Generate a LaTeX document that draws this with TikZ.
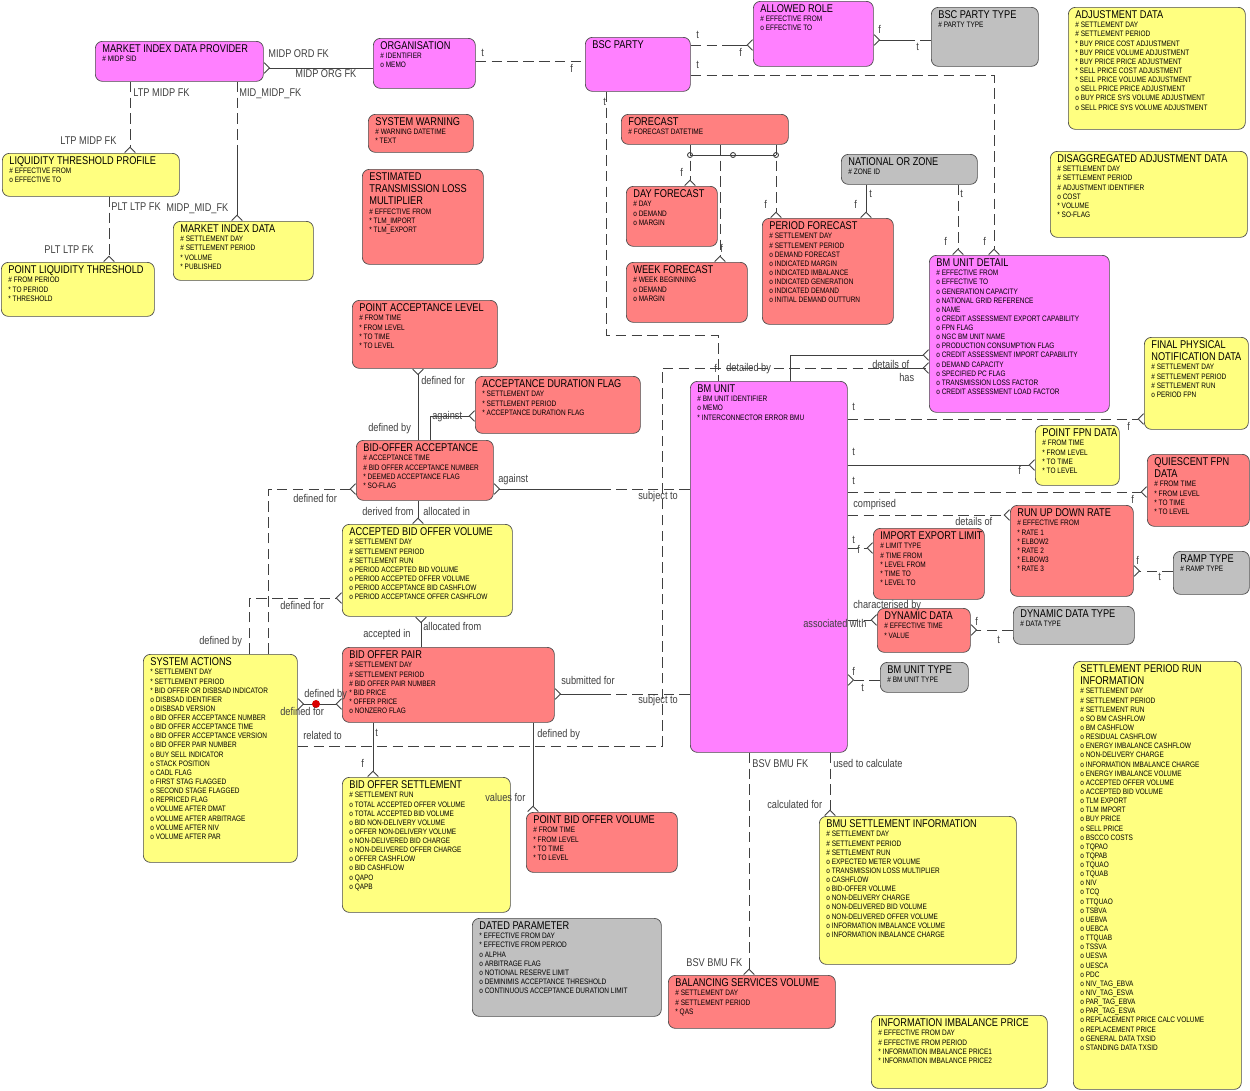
\documentclass[tikz,border=0pt]{standalone}
\usepackage{fontspec}
\setmainfont[FakeStretch=0.82]{Liberation Sans}
\usetikzlibrary{calc, arrows.meta}
\definecolor{entmag}{HTML}{FF80FF}
\definecolor{entred}{HTML}{FF8080}
\definecolor{entyel}{HTML}{FFFF80}
\definecolor{entgry}{HTML}{C0C0C0}
\tikzstyle{ent} = [rectangle, anchor=north west, draw=black!70, rounded corners=4pt, inner xsep=4pt, inner ysep=2pt]
\tikzstyle{lbl} = [anchor=north west, inner sep=0pt, font=\fontsize{6.4}{7}\selectfont, text=black!75]
\tikzstyle{rel} = [black!75, line width=0.5pt]
\tikzstyle{opt} = [rel, dash pattern=on 6pt off 3pt]
\tikzstyle{crow} = [-{Straight Barb[reversed,length=3pt,width=6pt]}]
\newcommand{\ttl}[1]{{\fontsize{6.4}{6.9}\selectfont #1\par}}
\newcommand{\at}[1]{{\fontsize{4.5}{5.2}\selectfont #1\par}}
\newcommand{\ent}[7]{\node[ent,fill=#6] (#1) at (#2,#3) {\parbox[t][\dimexpr0.02cm*#5-4pt\relax][t]{\dimexpr0.02cm*#4-8pt\relax}{\raggedright #7}};}
\newcommand{\lb}[4]{\node[lbl] (#1) at (#2,#3) {#4};}
\begin{document}
\begin{tikzpicture}[x=0.02cm, y=-0.02cm]
    \useasboundingbox[fill=white] (0,0) rectangle (1250,1090);
    % entities, top row
    \ent{midp}{95}{41}{168}{40}{entmag}{\ttl{MARKET INDEX DATA PROVIDER}\at{\# MIDP SID}}
    \ent{org}{373}{38}{102}{50}{entmag}{\ttl{ORGANISATION}\at{\# IDENTIFIER}\at{o MEMO}}
    \ent{party}{585}{37}{105}{54}{entmag}{\ttl{BSC PARTY}}
    \ent{role}{753}{1}{120}{65}{entmag}{\ttl{ALLOWED ROLE}\at{\# EFFECTIVE FROM}\at{o EFFECTIVE TO}}
    \ent{ptype}{931}{7}{107}{59}{entgry}{\ttl{BSC PARTY TYPE}\at{\# PARTY TYPE}}
    \ent{adj}{1068}{7}{177}{122}{entyel}{\ttl{ADJUSTMENT DATA}\at{\# SETTLEMENT DAY}\at{\# SETTLEMENT PERIOD}\at{* BUY PRICE COST ADJUSTMENT}\at{* BUY PRICE VOLUME ADJUSTMENT}\at{* BUY PRICE PRICE ADJUSTMENT}\at{* SELL PRICE COST ADJUSTMENT}\at{* SELL PRICE VOLUME ADJUSTMENT}\at{o SELL PRICE PRICE ADJUSTMENT}\at{o BUY PRICE SYS VOLUME ADJUSTMENT}\at{o SELL PRICE SYS VOLUME ADJUSTMENT}}
    \ent{ltp}{2}{153}{177}{43}{entyel}{\ttl{LIQUIDITY THRESHOLD PROFILE}\at{\# EFFECTIVE FROM}\at{o EFFECTIVE TO}}
    \ent{mid}{173}{221}{140}{59}{entyel}{\ttl{MARKET INDEX DATA}\at{\# SETTLEMENT DAY}\at{\# SETTLEMENT PERIOD}\at{* VOLUME}\at{* PUBLISHED}}
    \ent{plt}{1}{262}{153}{54}{entyel}{\ttl{POINT LIQUIDITY THRESHOLD}\at{\# FROM PERIOD}\at{* TO PERIOD}\at{* THRESHOLD}}
    \ent{warn}{368}{114}{105}{38}{entred}{\ttl{SYSTEM WARNING}\at{\# WARNING DATETIME}\at{* TEXT}}
    \ent{tlm}{362}{169}{121}{95}{entred}{\ttl{ESTIMATED\\TRANSMISSION LOSS\\MULTIPLIER}\at{\# EFFECTIVE FROM}\at{* TLM\_IMPORT}\at{* TLM\_EXPORT}}
    \ent{fcst}{621}{114}{167}{30}{entred}{\ttl{FORECAST}\at{\# FORECAST DATETIME}}
    \ent{dayf}{626}{186}{91}{60}{entred}{\ttl{DAY FORECAST}\at{\# DAY}\at{o DEMAND}\at{o MARGIN}}
    \ent{weekf}{626}{262}{121}{60}{entred}{\ttl{WEEK FORECAST}\at{\# WEEK BEGINNING}\at{o DEMAND}\at{o MARGIN}}
    \ent{perf}{762}{218}{131}{106}{entred}{\ttl{PERIOD FORECAST}\at{\# SETTLEMENT DAY}\at{\# SETTLEMENT PERIOD}\at{o DEMAND FORECAST}\at{o INDICATED MARGIN}\at{o INDICATED IMBALANCE}\at{o INDICATED GENERATION}\at{o INDICATED DEMAND}\at{o INITIAL DEMAND OUTTURN}}
    \ent{zone}{841}{154}{136}{30}{entgry}{\ttl{NATIONAL OR ZONE}\at{\# ZONE ID}}
    \ent{disagg}{1050}{151}{197}{86}{entyel}{\ttl{DISAGGREGATED ADJUSTMENT DATA}\at{\# SETTLEMENT DAY}\at{\# SETTLEMENT PERIOD}\at{\# ADJUSTMENT IDENTIFIER}\at{o COST}\at{* VOLUME}\at{* SO-FLAG}}
    \ent{bmud}{929}{255}{180}{157}{entmag}{\ttl{BM UNIT DETAIL}\at{\# EFFECTIVE FROM}\at{o EFFECTIVE TO}\at{o GENERATION CAPACITY}\at{o NATIONAL GRID REFERENCE}\at{o NAME}\at{o CREDIT ASSESSMENT EXPORT CAPABILITY}\at{o FPN FLAG}\at{o NGC BM UNIT NAME}\at{o PRODUCTION CONSUMPTION FLAG}\at{o CREDIT ASSESSMENT IMPORT CAPABILITY}\at{o DEMAND CAPACITY}\at{o SPECIFIED PC FLAG}\at{o TRANSMISSION LOSS FACTOR}\at{o CREDIT ASSESSMENT LOAD FACTOR}}
    % entities, middle
    \ent{pal}{352}{300}{145}{68}{entred}{\ttl{POINT ACCEPTANCE LEVEL}\at{\# FROM TIME}\at{* FROM LEVEL}\at{* TO TIME}\at{* TO LEVEL}}
    \ent{adf}{475}{376}{165}{57}{entred}{\ttl{ACCEPTANCE DURATION FLAG}\at{* SETTLEMENT DAY}\at{* SETTLEMENT PERIOD}\at{* ACCEPTANCE DURATION FLAG}}
    \ent{boa}{356}{440}{137}{60}{entred}{\ttl{BID-OFFER ACCEPTANCE}\at{\# ACCEPTANCE TIME}\at{\# BID OFFER ACCEPTANCE NUMBER}\at{* DEEMED ACCEPTANCE FLAG}\at{* SO-FLAG}}
    \ent{abov}{342}{524}{170}{92}{entyel}{\ttl{ACCEPTED BID OFFER VOLUME}\at{\# SETTLEMENT DAY}\at{\# SETTLEMENT PERIOD}\at{\# SETTLEMENT RUN}\at{o PERIOD ACCEPTED BID VOLUME}\at{o PERIOD ACCEPTED OFFER VOLUME}\at{o PERIOD ACCEPTANCE BID CASHFLOW}\at{o PERIOD ACCEPTANCE OFFER CASHFLOW}}
    \ent{bmu}{690}{381}{157}{371}{entmag}{\ttl{BM UNIT}\at{\# BM UNIT IDENTIFIER}\at{o MEMO}\at{* INTERCONNECTOR ERROR BMU}}
    \ent{fpn}{1144}{337}{104}{92}{entyel}{\ttl{FINAL PHYSICAL\\NOTIFICATION DATA}\at{\# SETTLEMENT DAY}\at{\# SETTLEMENT PERIOD}\at{\# SETTLEMENT RUN}\at{o PERIOD FPN}}
    \ent{pfpn}{1035}{425}{84}{60}{entyel}{\ttl{\mbox{POINT FPN DATA}}\at{\# FROM TIME}\at{* FROM LEVEL}\at{* TO TIME}\at{* TO LEVEL}}
    \ent{qfpn}{1147}{454}{102}{72}{entred}{\ttl{QUIESCENT FPN\\DATA}\at{\# FROM TIME}\at{* FROM LEVEL}\at{* TO TIME}\at{* TO LEVEL}}
    \ent{rudr}{1010}{505}{123}{91}{entred}{\ttl{RUN UP DOWN RATE}\at{\# EFFECTIVE FROM}\at{* RATE 1}\at{* ELBOW2}\at{* RATE 2}\at{* ELBOW3}\at{* RATE 3}}
    \ent{iel}{873}{528}{111}{71}{entred}{\ttl{\mbox{IMPORT EXPORT LIMIT}}\at{\# LIMIT TYPE}\at{\# TIME FROM}\at{* LEVEL FROM}\at{* TIME TO}\at{* LEVEL TO}}
    \ent{ramp}{1173}{551}{76}{43}{entgry}{\ttl{RAMP TYPE}\at{\# RAMP TYPE}}
    \ent{dyn}{877}{608}{93}{44}{entred}{\ttl{DYNAMIC DATA}\at{\# EFFECTIVE TIME}\at{* VALUE}}
    \ent{dtype}{1013}{606}{121}{38}{entgry}{\ttl{DYNAMIC DATA TYPE}\at{\# DATA TYPE}}
    \ent{utype}{880}{662}{88}{30}{entgry}{\ttl{BM UNIT TYPE}\at{\# BM UNIT TYPE}}
    \ent{spri}{1073}{661}{168}{428}{entyel}{\ttl{SETTLEMENT PERIOD RUN\\INFORMATION}\at{\# SETTLEMENT DAY}\at{\# SETTLEMENT PERIOD}\at{\# SETTLEMENT RUN}\at{o SO BM CASHFLOW}\at{o BM CASHFLOW}\at{o RESIDUAL CASHFLOW}\at{o ENERGY IMBALANCE CASHFLOW}\at{o NON-DELIVERY CHARGE}\at{o INFORMATION IMBALANCE CHARGE}\at{o ENERGY IMBALANCE VOLUME}\at{o ACCEPTED OFFER VOLUME}\at{o ACCEPTED BID VOLUME}\at{o TLM EXPORT}\at{o TLM IMPORT}\at{o BUY PRICE}\at{o SELL PRICE}\at{o BSCCO COSTS}\at{o TQPAO}\at{o TQPAB}\at{o TQUAO}\at{o TQUAB}\at{o NIV}\at{o TCQ}\at{o TTQUAO}\at{o TSBVA}\at{o UEBVA}\at{o UEBCA}\at{o TTQUAB}\at{o TSSVA}\at{o UESVA}\at{o UESCA}\at{o PDC}\at{o NIV\_TAG\_EBVA}\at{o NIV\_TAG\_ESVA}\at{o PAR\_TAG\_EBVA}\at{o PAR\_TAG\_ESVA}\at{o REPLACEMENT PRICE CALC VOLUME}\at{o REPLACEMENT PRICE}\at{o GENERAL DATA TXSID}\at{o STANDING DATA TXSID}}
    % entities, bottom
    \ent{sysact}{143}{654}{154}{208}{entyel}{\ttl{SYSTEM ACTIONS}\at{* SETTLEMENT DAY}\at{* SETTLEMENT PERIOD}\at{* BID OFFER OR DISBSAD INDICATOR}\at{o DISBSAD IDENTIFIER}\at{o DISBSAD VERSION}\at{o BID OFFER ACCEPTANCE NUMBER}\at{o BID OFFER ACCEPTANCE TIME}\at{o BID OFFER ACCEPTANCE VERSION}\at{o BID OFFER PAIR NUMBER}\at{o BUY SELL INDICATOR}\at{o STACK POSITION}\at{o CADL FLAG}\at{o FIRST STAG FLAGGED}\at{o SECOND STAGE FLAGGED}\at{o REPRICED FLAG}\at{o VOLUME AFTER DMAT}\at{o VOLUME AFTER ARBITRAGE}\at{o VOLUME AFTER NIV}\at{o VOLUME AFTER PAR}}
    \ent{bop}{342}{647}{212}{75}{entred}{\ttl{BID OFFER PAIR}\at{\# SETTLEMENT DAY}\at{\# SETTLEMENT PERIOD}\at{\# BID OFFER PAIR NUMBER}\at{* BID PRICE}\at{* OFFER PRICE}\at{o NONZERO FLAG}}
    \ent{bos}{342}{777}{168}{135}{entyel}{\ttl{BID OFFER SETTLEMENT}\at{\# SETTLEMENT RUN}\at{o TOTAL ACCEPTED OFFER VOLUME}\at{o TOTAL ACCEPTED BID VOLUME}\at{o BID NON-DELIVERY VOLUME}\at{o OFFER NON-DELIVERY VOLUME}\at{o NON-DELIVERED BID CHARGE}\at{o NON-DELIVERED OFFER CHARGE}\at{o OFFER CASHFLOW}\at{o BID CASHFLOW}\at{o QAPO}\at{o QAPB}}
    \ent{pbov}{526}{812}{151}{60}{entred}{\ttl{POINT BID OFFER VOLUME}\at{\# FROM TIME}\at{* FROM LEVEL}\at{* TO TIME}\at{* TO LEVEL}}
    \ent{dated}{472}{918}{189}{98}{entgry}{\ttl{DATED PARAMETER}\at{* EFFECTIVE FROM DAY}\at{* EFFECTIVE FROM PERIOD}\at{o ALPHA}\at{o ARBITRAGE FLAG}\at{o NOTIONAL RESERVE LIMIT}\at{o DEMINIMIS ACCEPTANCE THRESHOLD}\at{o CONTINUOUS ACCEPTANCE DURATION LIMIT}}
    \ent{bsv}{668}{975}{167}{53}{entred}{\ttl{BALANCING SERVICES VOLUME}\at{\# SETTLEMENT DAY}\at{\# SETTLEMENT PERIOD}\at{* QAS}}
    \ent{bmus}{819}{816}{197}{148}{entyel}{\ttl{BMU SETTLEMENT INFORMATION}\at{\# SETTLEMENT DAY}\at{\# SETTLEMENT PERIOD}\at{\# SETTLEMENT RUN}\at{o EXPECTED METER VOLUME}\at{o TRANSMISSION LOSS MULTIPLIER}\at{o CASHFLOW}\at{o BID-OFFER VOLUME}\at{o NON-DELIVERY CHARGE}\at{o NON-DELIVERED BID VOLUME}\at{o NON-DELIVERED OFFER VOLUME}\at{o INFORMATION IMBALANCE VOLUME}\at{o INFORMATION INBALANCE CHARGE}}
    \ent{iip}{871}{1015}{176}{73}{entyel}{\ttl{INFORMATION IMBALANCE PRICE}\at{\# EFFECTIVE FROM DAY}\at{\# EFFECTIVE FROM PERIOD}\at{* INFORMATION IMBALANCE PRICE1}\at{* INFORMATION IMBALANCE PRICE2}}

    % relationships, top left
    \draw [rel,crow] (org.west |- 0,68) -- (midp.east |- 0,68);
    \lb{l1}{268}{49}{MIDP ORD FK} \lb{l2}{295}{69}{MIDP ORG FK}
    \draw [opt] (org.east |- 0,61) -- (party.west |- 0,61);
    \lb{l3}{481}{49}{t} \lb{l4}{570}{64}{f}
    \draw [opt,crow] (130,0 |- midp.south) -- (130,0 |- ltp.north);
    \lb{l5}{133}{88}{LTP MIDP FK} \lb{l6}{60}{136}{LTP MIDP FK}
    \draw [opt] (237,0 |- midp.south) -- (237,150);
    \draw [rel,crow] (237,150) -- (237,0 |- mid.north);
    \lb{l7}{239}{88}{MID\_MIDP\_FK} \lb{l8}{166}{203}{MIDP\_MID\_FK}
    \draw [opt,crow] (109,0 |- ltp.south) -- (109,0 |- plt.north);
    \lb{l9}{111}{202}{PLT LTP FK} \lb{l10}{44}{245}{PLT LTP FK}
    % party and roles
    \draw [opt] (party.east |- 0,45) -- (725,45);
    \draw [rel,crow] (725,45) -- (role.west |- 0,45);
    \lb{l11}{696}{31}{t} \lb{l12}{739}{48}{f}
    \draw [rel,crow] (905,40) -- (role.east |- 0,40);
    \draw [opt] (ptype.west |- 0,40) -- (905,40);
    \lb{l13}{878}{25}{f} \lb{l14}{916}{43}{t}
    \draw [opt,crow] (party.east |- 0,75) -- (994,75) -- (994,0 |- bmud.north);
    \lb{l15}{696}{61}{t} \lb{l16}{983}{237}{f}
    \draw [opt] (606,0 |- party.south) -- (606,335) -- (718,335) -- (718,0 |- bmu.north);
    \lb{l17}{603}{98}{t} \lb{l18}{714}{364}{f}
    % forecast subtypes
    \draw [rel] (690,155) -- (776,155);
    \foreach \xf in {690,733,776} \draw [rel] (\xf,155) circle (2.5);
    \draw [opt,crow] (690,0 |- fcst.south) -- (690,0 |- dayf.north);
    \draw [opt,crow] (720,0 |- fcst.south) -- (720,0 |- weekf.north);
    \draw [opt,crow] (776,0 |- fcst.south) -- (776,0 |- perf.north);
    \lb{l19}{680}{168}{f} \lb{l20}{720}{244}{f} \lb{l21}{764}{200}{f}
    \draw [rel,crow] (866,0 |- zone.south) -- (866,0 |- perf.north);
    \lb{l22}{869}{190}{t} \lb{l23}{854}{200}{f}
    \draw [opt,crow] (958,0 |- zone.south) -- (958,0 |- bmud.north);
    \lb{l24}{960}{190}{t} \lb{l25}{944}{237}{f}
    % acceptances
    \draw [rel,crow] (418,0 |- boa.north) -- (418,0 |- pal.south);
    \lb{l26}{421}{376}{defined for} \lb{l27}{368}{423}{defined by}
    \draw [rel,crow] (430,0 |- boa.north) -- (430,416) -- (adf.west |- 0,416);
    \lb{l28}{432}{411}{against}
    \draw [rel,crow] (600,489) -- (boa.east |- 0,489);
    \draw [opt] (bmu.west |- 0,489) -- (600,489);
    \lb{l29}{498}{474}{against} \lb{l30}{638}{491}{subject to}
    \draw [rel,crow] (418,0 |- boa.south) -- (418,0 |- abov.north);
    \lb{l31}{362}{507}{derived from} \lb{l32}{423}{507}{allocated in}
    \draw [rel,crow] (421,0 |- bop.north) -- (421,0 |- abov.south);
    \lb{l33}{423}{622}{allocated from} \lb{l34}{363}{629}{accepted in}
    \draw [opt,crow] (268,0 |- sysact.north) -- (268,489) -- (boa.west |- 0,489);
    \lb{l35}{293}{494}{defined for} \lb{l36}{199}{636}{defined by}
    \draw [opt,crow] (249,0 |- sysact.north) -- (249,598) -- (abov.west |- 0,598);
    \lb{l37}{280}{601}{defined for}
    % bid offer pair
    \draw [rel,crow] (316,704) -- (sysact.east |- 0,704);
    \draw [rel,crow] (316,704) -- (bop.west |- 0,704);
    \fill [red!85!black] (316,704) coordinate (dot) circle (4);
    \lb{l38}{304}{689}{defined by} \lb{l39}{280}{707}{defined for}
    \draw [opt] (sysact.east |- 0,746) -- (662,746) -- (662,368) -- (bmud.west |- 0,368);
    \draw [rel,crow] (880,368) -- (bmud.west |- 0,368);
    \lb{l40}{303}{731}{related to} \lb{l41}{537}{729}{defined by}
    \lb{l42}{726}{363}{detailed by} \lb{l43}{872}{360}{details of} \lb{l44}{899}{373}{has}
    \draw [rel,crow] (790,0 |- bmu.north) -- (790,355) -- (bmud.west |- 0,355);
    \draw [rel,crow] (600,694) -- (bop.east |- 0,694);
    \draw [opt] (bmu.west |- 0,694) -- (600,694);
    \lb{l45}{561}{676}{submitted for} \lb{l46}{638}{695}{subject to}
    \draw [rel,crow] (373,0 |- bop.south) -- (373,0 |- bos.north);
    \lb{l47}{375}{729}{t} \lb{l48}{361}{759}{f}
    \draw [rel,crow] (533,0 |- bop.south) -- (533,0 |- pbov.north);
    \lb{l49}{485}{793}{values for}
    % bm unit to the right
    \draw [opt,crow] (bmu.east |- 0,419) -- (fpn.west |- 0,419);
    \lb{l50}{852}{403}{t} \lb{l51}{1127}{422}{f}
    \draw [rel,crow] (bmu.east |- 0,465) -- (pfpn.west |- 0,465);
    \lb{l52}{852}{448}{t} \lb{l53}{1018}{466}{f}
    \draw [opt,crow] (bmu.east |- 0,492) -- (qfpn.west |- 0,492);
    \lb{l54}{852}{477}{t} \lb{l55}{1131}{495}{f}
    \draw [opt,crow] (bmu.east |- 0,515) -- (rudr.west |- 0,515);
    \lb{l56}{853}{499}{comprised} \lb{l57}{955}{517}{details of}
    \draw [opt,crow] (bmu.east |- 0,548) -- (iel.west |- 0,548);
    \lb{l58}{852}{536}{t} \lb{l59}{857}{545}{f}
    \draw [opt,crow] (bmu.east |- 0,620) -- (dyn.west |- 0,620);
    \lb{l60}{853}{600}{characterised by} \lb{l61}{803}{619}{associated with}
    \draw [opt,crow] (ramp.west |- 0,571) -- (rudr.east |- 0,571);
    \lb{l62}{1136}{556}{f} \lb{l63}{1158}{573}{t}
    \draw [opt,crow] (dtype.west |- 0,630) -- (dyn.east |- 0,630);
    \lb{l64}{975}{617}{f} \lb{l65}{997}{636}{t}
    \draw [opt,crow] (utype.west |- 0,680) -- (bmu.east |- 0,680);
    \lb{l66}{852}{667}{f} \lb{l67}{861}{684}{t}
    % bm unit downwards
    \draw [opt,crow] (749,0 |- bmu.south) -- (749,0 |- bsv.north);
    \lb{l68}{752}{759}{BSV BMU FK} \lb{l69}{686}{958}{BSV BMU FK}
    \draw [opt,crow] (830,0 |- bmu.south) -- (830,0 |- bmus.north);
    \lb{l70}{833}{759}{used to calculate} \lb{l71}{767}{800}{calculated for}
\end{tikzpicture}
\end{document}
